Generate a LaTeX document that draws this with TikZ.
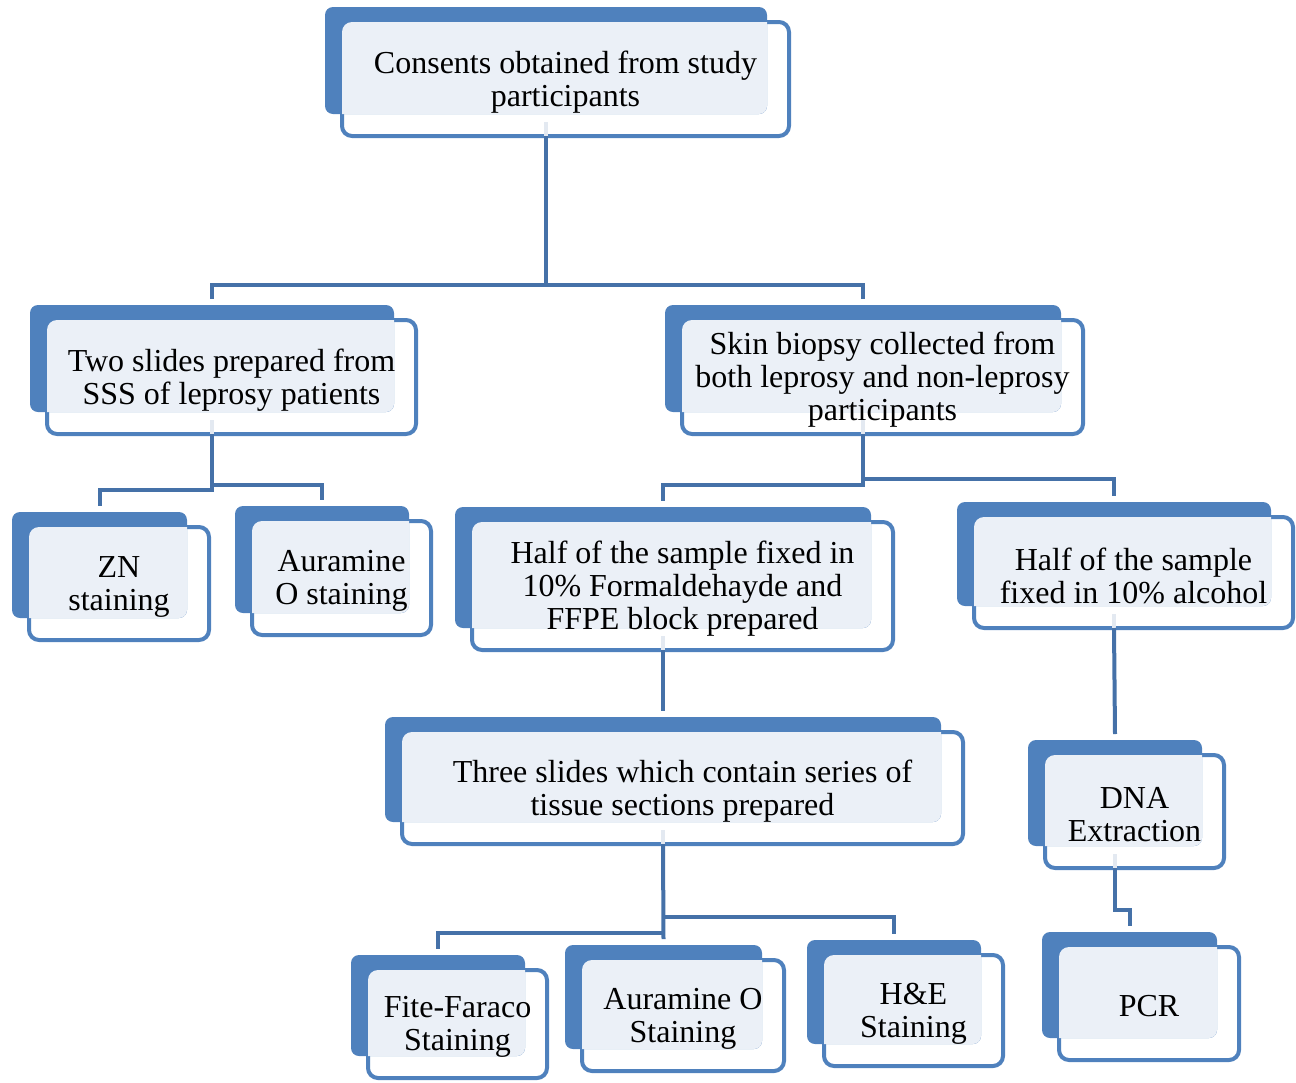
\documentclass[tikz,border=0pt]{standalone}
\usepackage{fontspec}
\setmainfont{Liberation Serif}
\usepackage{tikz}
\usetikzlibrary{calc,backgrounds}
\definecolor{boxblue}{HTML}{4F81BD}
\definecolor{linkblue}{HTML}{4571A8}
\definecolor{paleblue}{HTML}{EBF0F7}
\definecolor{ghostblue}{HTML}{E3E9F1}
% name, x1, y1, x2, y2 (outer edge of the front frame, in pixels), text
\newcommand{\stackbox}[6]{%
  \pgfmathsetmacro{\sbw}{(#4-#2-4)/2}\pgfmathsetmacro{\sbh}{(#5-#3-4)/2}%
  \node[frame,minimum width=\sbw pt,minimum height=\sbh pt] (#1) at ({(#2+#4)/2},{(#3+#5)/2}) {};
  \node[boxtext] (#1-t) at ($(#1.center)+(0,3)$) {#6};
  \begin{pgfonlayer}{background}
    \draw[frontline] (#1.north west) rectangle (#1.south east);
    \path ($(#1.north west)+(-17,-15)$) coordinate (#1-a) ($(#1.south east)+(-22,-22)$) coordinate (#1-b);
    \fill[backfill] (#1-a) rectangle (#1-b);
    \begin{scope}
      \clip[rounded corners=4pt] (#1-a) rectangle (#1-b);
      \fill[palefill] (#1.north west) rectangle (#1.south east);
    \end{scope}
  \end{pgfonlayer}
  \coordinate (#1-in) at ($(#1.north)+(-19.5,-21)$);
  \coordinate (#1-out) at ($(#1.south)+(-19.5,0)$);
}
\begin{document}
\begin{tikzpicture}[x=0.5pt,y=-0.5pt,
  frame/.style={inner sep=0pt,outer sep=0pt},
  boxtext/.style={inner sep=0pt,align=center,font=\fontsize{16}{16.5}\selectfont},
  frontline/.style={draw=boxblue,line width=2pt,fill=white,rounded corners=5pt},
  backfill/.style={fill=boxblue,rounded corners=4pt},
  palefill/.style={fill=paleblue,rounded corners=5pt},
  link/.style={draw=linkblue,line width=2pt},
  ghost/.style={draw=ghostblue,line width=2pt}]
\useasboundingbox (0,0) rectangle (1296,1082);
\stackbox{cons}{340}{20}{791}{138}{Consents obtained from study\\participants}
\stackbox{slides}{45}{318}{418}{436}{Two slides prepared from\\SSS of leprosy patients}
\stackbox{skin}{680}{318}{1085}{436}{Skin biopsy collected from\\both leprosy and non-leprosy\\participants}
\stackbox{zn}{27}{525}{211}{642}{ZN\\staining}
\stackbox{auro}{250}{519}{433}{637}{Auramine\\O staining}
\stackbox{form}{470}{520}{895}{652}{Half of the sample fixed in\\10\% Formaldehayde and\\FFPE block prepared}
\stackbox{alc}{972}{515}{1295}{630}{Half of the sample\\fixed in 10\% alcohol}
\stackbox{three}{400}{730}{965}{846}{Three slides which contain series of\\tissue sections prepared}
\stackbox{dna}{1043}{753}{1226}{870}{DNA\\Extraction}
\stackbox{pcr}{1057}{945}{1241}{1062}{PCR}
\stackbox{fite}{366}{968}{549}{1080}{Fite-Faraco\\Staining}
\stackbox{stain}{580}{958}{786}{1073}{Auramine O\\Staining}
\stackbox{he}{822}{953}{1005}{1068}{H\&E\\Staining}
\foreach \b in {cons,slides,skin,form,alc,three,dna}
  \draw[ghost] ($(\b-out)+(0,-14)$) -- (\b-out);
\draw[link] (cons-out) -- ++(0,149) -| (slides-in);
\draw[link] (cons-out) ++(0,149) -| (skin-in);
\draw[link] (slides-out) -- ++(0,56) -| (zn-in);
\draw[link] (slides-out) ++(0,51) -| (auro-in);
\draw[link] (skin-out) -- ++(0,51) -| (form-in);
\draw[link] (skin-out) ++(0,45) -| (alc-in);
\draw[link] (form-out) -- (three-in);
\draw[link] (alc-out) -- (dna-in);
\draw[link] (dna-out) -- ++(0,42) -| (pcr-in);
\draw[link] (three-out) -- (stain-in);
\draw[link] (three-out) ++(0,89) -| (fite-in);
\draw[link] (three-out) ++(0,73) -| (he-in);
\end{tikzpicture}
\end{document}
